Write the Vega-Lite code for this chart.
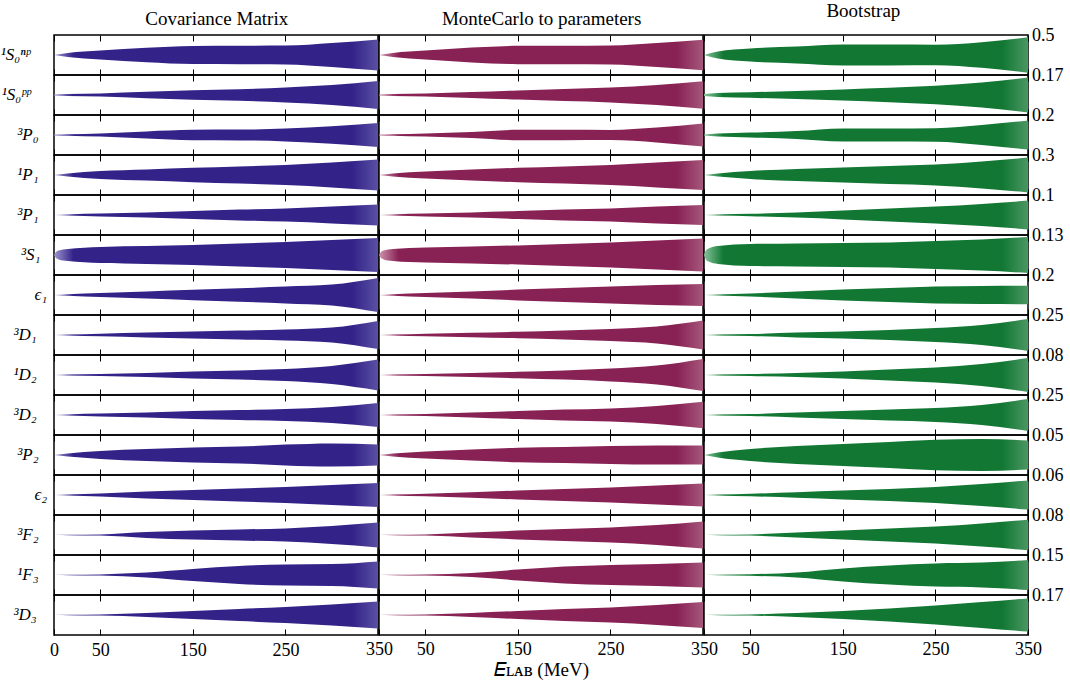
{
"$schema": "https://vega.github.io/schema/vega-lite/v6.json",
"padding": {"left": 0, "top": 2, "right": 0, "bottom": 2},
"background": "white",
"config": {"view": {"stroke": "black", "strokeWidth": 1.5}, "font": "Liberation Serif"},
"datasets": {
"lims": [
{"c":"¹S₀ⁿᵖ","lim":0.5,"nlim":-0.5,"lab":"0.5"},
{"c":"¹S₀ᵖᵖ","lim":0.17,"nlim":-0.17,"lab":"0.17"},
{"c":"³P₀","lim":0.2,"nlim":-0.2,"lab":"0.2"},
{"c":"¹P₁","lim":0.3,"nlim":-0.3,"lab":"0.3"},
{"c":"³P₁","lim":0.1,"nlim":-0.1,"lab":"0.1"},
{"c":"³S₁","lim":0.13,"nlim":-0.13,"lab":"0.13"},
{"c":"ϵ₁","lim":0.2,"nlim":-0.2,"lab":"0.2"},
{"c":"³D₁","lim":0.25,"nlim":-0.25,"lab":"0.25"},
{"c":"¹D₂","lim":0.08,"nlim":-0.08,"lab":"0.08"},
{"c":"³D₂","lim":0.25,"nlim":-0.25,"lab":"0.25"},
{"c":"³P₂","lim":0.05,"nlim":-0.05,"lab":"0.05"},
{"c":"ϵ₂","lim":0.06,"nlim":-0.06,"lab":"0.06"},
{"c":"³F₂","lim":0.08,"nlim":-0.08,"lab":"0.08"},
{"c":"¹F₃","lim":0.15,"nlim":-0.15,"lab":"0.15"},
{"c":"³D₃","lim":0.17,"nlim":-0.17,"lab":"0.17"}
],
"bands": [
{"c":"¹S₀ⁿᵖ","m":"C","E":0,"lo":0,"hi":0},{"c":"¹S₀ⁿᵖ","m":"C","E":15,"lo":-0.05,"hi":0.05},{"c":"¹S₀ⁿᵖ","m":"C","E":50,"lo":-0.11,"hi":0.11},{"c":"¹S₀ⁿᵖ","m":"C","E":100,"lo":-0.18,"hi":0.18},{"c":"¹S₀ⁿᵖ","m":"C","E":150,"lo":-0.225,"hi":0.225},{"c":"¹S₀ⁿᵖ","m":"C","E":200,"lo":-0.23,"hi":0.23},{"c":"¹S₀ⁿᵖ","m":"C","E":250,"lo":-0.235,"hi":0.235},{"c":"¹S₀ⁿᵖ","m":"C","E":300,"lo":-0.3,"hi":0.3},{"c":"¹S₀ⁿᵖ","m":"C","E":350,"lo":-0.39,"hi":0.39},
{"c":"¹S₀ⁿᵖ","m":"M","E":0,"lo":0,"hi":0},{"c":"¹S₀ⁿᵖ","m":"M","E":15,"lo":-0.05,"hi":0.05},{"c":"¹S₀ⁿᵖ","m":"M","E":50,"lo":-0.11,"hi":0.11},{"c":"¹S₀ⁿᵖ","m":"M","E":100,"lo":-0.185,"hi":0.185},{"c":"¹S₀ⁿᵖ","m":"M","E":150,"lo":-0.23,"hi":0.23},{"c":"¹S₀ⁿᵖ","m":"M","E":200,"lo":-0.23,"hi":0.23},{"c":"¹S₀ⁿᵖ","m":"M","E":250,"lo":-0.235,"hi":0.235},{"c":"¹S₀ⁿᵖ","m":"M","E":300,"lo":-0.3,"hi":0.3},{"c":"¹S₀ⁿᵖ","m":"M","E":350,"lo":-0.38,"hi":0.38},
{"c":"¹S₀ⁿᵖ","m":"B","E":0,"lo":0,"hi":0},{"c":"¹S₀ⁿᵖ","m":"B","E":15,"lo":-0.09,"hi":0.09},{"c":"¹S₀ⁿᵖ","m":"B","E":50,"lo":-0.165,"hi":0.165},{"c":"¹S₀ⁿᵖ","m":"B","E":100,"lo":-0.21,"hi":0.21},{"c":"¹S₀ⁿᵖ","m":"B","E":150,"lo":-0.26,"hi":0.26},{"c":"¹S₀ⁿᵖ","m":"B","E":200,"lo":-0.26,"hi":0.26},{"c":"¹S₀ⁿᵖ","m":"B","E":250,"lo":-0.255,"hi":0.255},{"c":"¹S₀ⁿᵖ","m":"B","E":300,"lo":-0.32,"hi":0.32},{"c":"¹S₀ⁿᵖ","m":"B","E":350,"lo":-0.445,"hi":0.445},
{"c":"¹S₀ᵖᵖ","m":"C","E":0,"lo":-0.005,"hi":0.005},{"c":"¹S₀ᵖᵖ","m":"C","E":15,"lo":-0.0085,"hi":0.0085},{"c":"¹S₀ᵖᵖ","m":"C","E":50,"lo":-0.0136,"hi":0.0136},{"c":"¹S₀ᵖᵖ","m":"C","E":100,"lo":-0.0272,"hi":0.0272},{"c":"¹S₀ᵖᵖ","m":"C","E":150,"lo":-0.0408,"hi":0.0408},{"c":"¹S₀ᵖᵖ","m":"C","E":200,"lo":-0.0493,"hi":0.0493},{"c":"¹S₀ᵖᵖ","m":"C","E":250,"lo":-0.0646,"hi":0.0646},{"c":"¹S₀ᵖᵖ","m":"C","E":300,"lo":-0.085,"hi":0.085},{"c":"¹S₀ᵖᵖ","m":"C","E":350,"lo":-0.119,"hi":0.119},
{"c":"¹S₀ᵖᵖ","m":"M","E":0,"lo":-0.005,"hi":0.005},{"c":"¹S₀ᵖᵖ","m":"M","E":15,"lo":-0.0085,"hi":0.0085},{"c":"¹S₀ᵖᵖ","m":"M","E":50,"lo":-0.0136,"hi":0.0136},{"c":"¹S₀ᵖᵖ","m":"M","E":100,"lo":-0.0255,"hi":0.0255},{"c":"¹S₀ᵖᵖ","m":"M","E":150,"lo":-0.0391,"hi":0.0391},{"c":"¹S₀ᵖᵖ","m":"M","E":200,"lo":-0.051,"hi":0.051},{"c":"¹S₀ᵖᵖ","m":"M","E":250,"lo":-0.0629,"hi":0.0629},{"c":"¹S₀ᵖᵖ","m":"M","E":300,"lo":-0.085,"hi":0.085},{"c":"¹S₀ᵖᵖ","m":"M","E":350,"lo":-0.1173,"hi":0.1173},
{"c":"¹S₀ᵖᵖ","m":"B","E":0,"lo":-0.0085,"hi":0.0085},{"c":"¹S₀ᵖᵖ","m":"B","E":15,"lo":-0.017,"hi":0.017},{"c":"¹S₀ᵖᵖ","m":"B","E":50,"lo":-0.0238,"hi":0.0238},{"c":"¹S₀ᵖᵖ","m":"B","E":100,"lo":-0.034,"hi":0.034},{"c":"¹S₀ᵖᵖ","m":"B","E":150,"lo":-0.0476,"hi":0.0476},{"c":"¹S₀ᵖᵖ","m":"B","E":200,"lo":-0.0612,"hi":0.0612},{"c":"¹S₀ᵖᵖ","m":"B","E":250,"lo":-0.0782,"hi":0.0782},{"c":"¹S₀ᵖᵖ","m":"B","E":300,"lo":-0.1054,"hi":0.1054},{"c":"¹S₀ᵖᵖ","m":"B","E":350,"lo":-0.1479,"hi":0.1479},
{"c":"³P₀","m":"C","E":0,"lo":-0.004,"hi":0.004},{"c":"³P₀","m":"C","E":15,"lo":-0.008,"hi":0.008},{"c":"³P₀","m":"C","E":50,"lo":-0.016,"hi":0.016},{"c":"³P₀","m":"C","E":100,"lo":-0.036,"hi":0.036},{"c":"³P₀","m":"C","E":150,"lo":-0.052,"hi":0.052},{"c":"³P₀","m":"C","E":200,"lo":-0.054,"hi":0.054},{"c":"³P₀","m":"C","E":250,"lo":-0.064,"hi":0.064},{"c":"³P₀","m":"C","E":300,"lo":-0.088,"hi":0.088},{"c":"³P₀","m":"C","E":350,"lo":-0.12,"hi":0.12},
{"c":"³P₀","m":"M","E":0,"lo":-0.004,"hi":0.004},{"c":"³P₀","m":"M","E":15,"lo":-0.008,"hi":0.008},{"c":"³P₀","m":"M","E":50,"lo":-0.016,"hi":0.016},{"c":"³P₀","m":"M","E":100,"lo":-0.03,"hi":0.03},{"c":"³P₀","m":"M","E":150,"lo":-0.052,"hi":0.052},{"c":"³P₀","m":"M","E":200,"lo":-0.052,"hi":0.052},{"c":"³P₀","m":"M","E":250,"lo":-0.05,"hi":0.05},{"c":"³P₀","m":"M","E":300,"lo":-0.074,"hi":0.074},{"c":"³P₀","m":"M","E":350,"lo":-0.116,"hi":0.116},
{"c":"³P₀","m":"B","E":0,"lo":-0.004,"hi":0.004},{"c":"³P₀","m":"B","E":15,"lo":-0.014,"hi":0.014},{"c":"³P₀","m":"B","E":50,"lo":-0.024,"hi":0.024},{"c":"³P₀","m":"B","E":100,"lo":-0.04,"hi":0.04},{"c":"³P₀","m":"B","E":150,"lo":-0.066,"hi":0.066},{"c":"³P₀","m":"B","E":200,"lo":-0.066,"hi":0.066},{"c":"³P₀","m":"B","E":250,"lo":-0.068,"hi":0.068},{"c":"³P₀","m":"B","E":300,"lo":-0.1,"hi":0.1},{"c":"³P₀","m":"B","E":350,"lo":-0.146,"hi":0.146},
{"c":"¹P₁","m":"C","E":0,"lo":0,"hi":0},{"c":"¹P₁","m":"C","E":15,"lo":-0.024,"hi":0.024},{"c":"¹P₁","m":"C","E":50,"lo":-0.06,"hi":0.06},{"c":"¹P₁","m":"C","E":100,"lo":-0.084,"hi":0.084},{"c":"¹P₁","m":"C","E":150,"lo":-0.108,"hi":0.108},{"c":"¹P₁","m":"C","E":200,"lo":-0.129,"hi":0.129},{"c":"¹P₁","m":"C","E":250,"lo":-0.15,"hi":0.15},{"c":"¹P₁","m":"C","E":300,"lo":-0.186,"hi":0.186},{"c":"¹P₁","m":"C","E":350,"lo":-0.231,"hi":0.231},
{"c":"¹P₁","m":"M","E":0,"lo":0,"hi":0},{"c":"¹P₁","m":"M","E":15,"lo":-0.021,"hi":0.021},{"c":"¹P₁","m":"M","E":50,"lo":-0.051,"hi":0.051},{"c":"¹P₁","m":"M","E":100,"lo":-0.081,"hi":0.081},{"c":"¹P₁","m":"M","E":150,"lo":-0.108,"hi":0.108},{"c":"¹P₁","m":"M","E":200,"lo":-0.129,"hi":0.129},{"c":"¹P₁","m":"M","E":250,"lo":-0.15,"hi":0.15},{"c":"¹P₁","m":"M","E":300,"lo":-0.186,"hi":0.186},{"c":"¹P₁","m":"M","E":350,"lo":-0.225,"hi":0.225},
{"c":"¹P₁","m":"B","E":0,"lo":0,"hi":0},{"c":"¹P₁","m":"B","E":15,"lo":-0.024,"hi":0.024},{"c":"¹P₁","m":"B","E":50,"lo":-0.06,"hi":0.06},{"c":"¹P₁","m":"B","E":100,"lo":-0.09,"hi":0.09},{"c":"¹P₁","m":"B","E":150,"lo":-0.111,"hi":0.111},{"c":"¹P₁","m":"B","E":200,"lo":-0.135,"hi":0.135},{"c":"¹P₁","m":"B","E":250,"lo":-0.156,"hi":0.156},{"c":"¹P₁","m":"B","E":300,"lo":-0.201,"hi":0.201},{"c":"¹P₁","m":"B","E":350,"lo":-0.261,"hi":0.261},
{"c":"³P₁","m":"C","E":0,"lo":0,"hi":0},{"c":"³P₁","m":"C","E":15,"lo":-0.003,"hi":0.003},{"c":"³P₁","m":"C","E":50,"lo":-0.007,"hi":0.007},{"c":"³P₁","m":"C","E":100,"lo":-0.013,"hi":0.013},{"c":"³P₁","m":"C","E":150,"lo":-0.02,"hi":0.02},{"c":"³P₁","m":"C","E":200,"lo":-0.027,"hi":0.027},{"c":"³P₁","m":"C","E":250,"lo":-0.033,"hi":0.033},{"c":"³P₁","m":"C","E":300,"lo":-0.042,"hi":0.042},{"c":"³P₁","m":"C","E":350,"lo":-0.052,"hi":0.052},
{"c":"³P₁","m":"M","E":0,"lo":0,"hi":0},{"c":"³P₁","m":"M","E":15,"lo":-0.003,"hi":0.003},{"c":"³P₁","m":"M","E":50,"lo":-0.007,"hi":0.007},{"c":"³P₁","m":"M","E":100,"lo":-0.013,"hi":0.013},{"c":"³P₁","m":"M","E":150,"lo":-0.02,"hi":0.02},{"c":"³P₁","m":"M","E":200,"lo":-0.027,"hi":0.027},{"c":"³P₁","m":"M","E":250,"lo":-0.033,"hi":0.033},{"c":"³P₁","m":"M","E":300,"lo":-0.042,"hi":0.042},{"c":"³P₁","m":"M","E":350,"lo":-0.05,"hi":0.05},
{"c":"³P₁","m":"B","E":0,"lo":0,"hi":0},{"c":"³P₁","m":"B","E":15,"lo":-0.003,"hi":0.003},{"c":"³P₁","m":"B","E":50,"lo":-0.006,"hi":0.006},{"c":"³P₁","m":"B","E":100,"lo":-0.013,"hi":0.013},{"c":"³P₁","m":"B","E":150,"lo":-0.022,"hi":0.022},{"c":"³P₁","m":"B","E":200,"lo":-0.032,"hi":0.032},{"c":"³P₁","m":"B","E":250,"lo":-0.042,"hi":0.042},{"c":"³P₁","m":"B","E":300,"lo":-0.055,"hi":0.055},{"c":"³P₁","m":"B","E":350,"lo":-0.072,"hi":0.072},
{"c":"³S₁","m":"C","E":0,"lo":0,"hi":0},{"c":"³S₁","m":"C","E":2,"lo":-0.0182,"hi":0.0182},{"c":"³S₁","m":"C","E":5,"lo":-0.0286,"hi":0.0286},{"c":"³S₁","m":"C","E":15,"lo":-0.039,"hi":0.039},{"c":"³S₁","m":"C","E":50,"lo":-0.052,"hi":0.052},{"c":"³S₁","m":"C","E":100,"lo":-0.0585,"hi":0.0585},{"c":"³S₁","m":"C","E":150,"lo":-0.065,"hi":0.065},{"c":"³S₁","m":"C","E":200,"lo":-0.0741,"hi":0.0741},{"c":"³S₁","m":"C","E":250,"lo":-0.0845,"hi":0.0845},{"c":"³S₁","m":"C","E":300,"lo":-0.0975,"hi":0.0975},{"c":"³S₁","m":"C","E":350,"lo":-0.1105,"hi":0.1105},
{"c":"³S₁","m":"M","E":0,"lo":0,"hi":0},{"c":"³S₁","m":"M","E":2,"lo":-0.0182,"hi":0.0182},{"c":"³S₁","m":"M","E":5,"lo":-0.0286,"hi":0.0286},{"c":"³S₁","m":"M","E":15,"lo":-0.039,"hi":0.039},{"c":"³S₁","m":"M","E":50,"lo":-0.0494,"hi":0.0494},{"c":"³S₁","m":"M","E":100,"lo":-0.0559,"hi":0.0559},{"c":"³S₁","m":"M","E":150,"lo":-0.0624,"hi":0.0624},{"c":"³S₁","m":"M","E":200,"lo":-0.0715,"hi":0.0715},{"c":"³S₁","m":"M","E":250,"lo":-0.0806,"hi":0.0806},{"c":"³S₁","m":"M","E":300,"lo":-0.0936,"hi":0.0936},{"c":"³S₁","m":"M","E":350,"lo":-0.1066,"hi":0.1066},
{"c":"³S₁","m":"B","E":0,"lo":0,"hi":0},{"c":"³S₁","m":"B","E":2,"lo":-0.0286,"hi":0.0286},{"c":"³S₁","m":"B","E":5,"lo":-0.0429,"hi":0.0429},{"c":"³S₁","m":"B","E":15,"lo":-0.0585,"hi":0.0585},{"c":"³S₁","m":"B","E":50,"lo":-0.0715,"hi":0.0715},{"c":"³S₁","m":"B","E":100,"lo":-0.0741,"hi":0.0741},{"c":"³S₁","m":"B","E":150,"lo":-0.078,"hi":0.078},{"c":"³S₁","m":"B","E":200,"lo":-0.0819,"hi":0.0819},{"c":"³S₁","m":"B","E":250,"lo":-0.091,"hi":0.091},{"c":"³S₁","m":"B","E":300,"lo":-0.1014,"hi":0.1014},{"c":"³S₁","m":"B","E":350,"lo":-0.117,"hi":0.117},
{"c":"ϵ₁","m":"C","E":0,"lo":0,"hi":0},{"c":"ϵ₁","m":"C","E":15,"lo":-0.008,"hi":0.008},{"c":"ϵ₁","m":"C","E":50,"lo":-0.02,"hi":0.02},{"c":"ϵ₁","m":"C","E":100,"lo":-0.036,"hi":0.036},{"c":"ϵ₁","m":"C","E":150,"lo":-0.052,"hi":0.052},{"c":"ϵ₁","m":"C","E":200,"lo":-0.068,"hi":0.068},{"c":"ϵ₁","m":"C","E":250,"lo":-0.084,"hi":0.084},{"c":"ϵ₁","m":"C","E":300,"lo":-0.104,"hi":0.104},{"c":"ϵ₁","m":"C","E":350,"lo":-0.17,"hi":0.17},
{"c":"ϵ₁","m":"M","E":0,"lo":0,"hi":0},{"c":"ϵ₁","m":"M","E":15,"lo":-0.008,"hi":0.008},{"c":"ϵ₁","m":"M","E":50,"lo":-0.02,"hi":0.02},{"c":"ϵ₁","m":"M","E":100,"lo":-0.036,"hi":0.036},{"c":"ϵ₁","m":"M","E":150,"lo":-0.054,"hi":0.054},{"c":"ϵ₁","m":"M","E":200,"lo":-0.07,"hi":0.07},{"c":"ϵ₁","m":"M","E":250,"lo":-0.086,"hi":0.086},{"c":"ϵ₁","m":"M","E":300,"lo":-0.1,"hi":0.1},{"c":"ϵ₁","m":"M","E":350,"lo":-0.11,"hi":0.11},
{"c":"ϵ₁","m":"B","E":0,"lo":0,"hi":0},{"c":"ϵ₁","m":"B","E":15,"lo":-0.006,"hi":0.006},{"c":"ϵ₁","m":"B","E":50,"lo":-0.016,"hi":0.016},{"c":"ϵ₁","m":"B","E":100,"lo":-0.034,"hi":0.034},{"c":"ϵ₁","m":"B","E":150,"lo":-0.054,"hi":0.054},{"c":"ϵ₁","m":"B","E":200,"lo":-0.07,"hi":0.07},{"c":"ϵ₁","m":"B","E":250,"lo":-0.084,"hi":0.084},{"c":"ϵ₁","m":"B","E":300,"lo":-0.09,"hi":0.09},{"c":"ϵ₁","m":"B","E":350,"lo":-0.092,"hi":0.092},
{"c":"³D₁","m":"C","E":0,"lo":0,"hi":0},{"c":"³D₁","m":"C","E":15,"lo":-0.005,"hi":0.005},{"c":"³D₁","m":"C","E":50,"lo":-0.015,"hi":0.015},{"c":"³D₁","m":"C","E":100,"lo":-0.03,"hi":0.03},{"c":"³D₁","m":"C","E":150,"lo":-0.0425,"hi":0.0425},{"c":"³D₁","m":"C","E":200,"lo":-0.055,"hi":0.055},{"c":"³D₁","m":"C","E":250,"lo":-0.0675,"hi":0.0675},{"c":"³D₁","m":"C","E":300,"lo":-0.0925,"hi":0.0925},{"c":"³D₁","m":"C","E":350,"lo":-0.175,"hi":0.175},
{"c":"³D₁","m":"M","E":0,"lo":0,"hi":0},{"c":"³D₁","m":"M","E":15,"lo":-0.005,"hi":0.005},{"c":"³D₁","m":"M","E":50,"lo":-0.015,"hi":0.015},{"c":"³D₁","m":"M","E":100,"lo":-0.0275,"hi":0.0275},{"c":"³D₁","m":"M","E":150,"lo":-0.04,"hi":0.04},{"c":"³D₁","m":"M","E":200,"lo":-0.055,"hi":0.055},{"c":"³D₁","m":"M","E":250,"lo":-0.075,"hi":0.075},{"c":"³D₁","m":"M","E":300,"lo":-0.105,"hi":0.105},{"c":"³D₁","m":"M","E":350,"lo":-0.18,"hi":0.18},
{"c":"³D₁","m":"B","E":0,"lo":0,"hi":0},{"c":"³D₁","m":"B","E":15,"lo":-0.005,"hi":0.005},{"c":"³D₁","m":"B","E":50,"lo":-0.0125,"hi":0.0125},{"c":"³D₁","m":"B","E":100,"lo":-0.03,"hi":0.03},{"c":"³D₁","m":"B","E":150,"lo":-0.045,"hi":0.045},{"c":"³D₁","m":"B","E":200,"lo":-0.0625,"hi":0.0625},{"c":"³D₁","m":"B","E":250,"lo":-0.0875,"hi":0.0875},{"c":"³D₁","m":"B","E":300,"lo":-0.125,"hi":0.125},{"c":"³D₁","m":"B","E":350,"lo":-0.2,"hi":0.2},
{"c":"¹D₂","m":"C","E":0,"lo":0,"hi":0},{"c":"¹D₂","m":"C","E":15,"lo":-0.0016,"hi":0.0016},{"c":"¹D₂","m":"C","E":50,"lo":-0.004,"hi":0.004},{"c":"¹D₂","m":"C","E":100,"lo":-0.008,"hi":0.008},{"c":"¹D₂","m":"C","E":150,"lo":-0.0136,"hi":0.0136},{"c":"¹D₂","m":"C","E":200,"lo":-0.0184,"hi":0.0184},{"c":"¹D₂","m":"C","E":250,"lo":-0.024,"hi":0.024},{"c":"¹D₂","m":"C","E":300,"lo":-0.036,"hi":0.036},{"c":"¹D₂","m":"C","E":350,"lo":-0.0616,"hi":0.0616},
{"c":"¹D₂","m":"M","E":0,"lo":0,"hi":0},{"c":"¹D₂","m":"M","E":15,"lo":-0.0016,"hi":0.0016},{"c":"¹D₂","m":"M","E":50,"lo":-0.004,"hi":0.004},{"c":"¹D₂","m":"M","E":100,"lo":-0.008,"hi":0.008},{"c":"¹D₂","m":"M","E":150,"lo":-0.0128,"hi":0.0128},{"c":"¹D₂","m":"M","E":200,"lo":-0.0184,"hi":0.0184},{"c":"¹D₂","m":"M","E":250,"lo":-0.0256,"hi":0.0256},{"c":"¹D₂","m":"M","E":300,"lo":-0.0376,"hi":0.0376},{"c":"¹D₂","m":"M","E":350,"lo":-0.064,"hi":0.064},
{"c":"¹D₂","m":"B","E":0,"lo":0,"hi":0},{"c":"¹D₂","m":"B","E":15,"lo":-0.0016,"hi":0.0016},{"c":"¹D₂","m":"B","E":50,"lo":-0.004,"hi":0.004},{"c":"¹D₂","m":"B","E":100,"lo":-0.008,"hi":0.008},{"c":"¹D₂","m":"B","E":150,"lo":-0.0144,"hi":0.0144},{"c":"¹D₂","m":"B","E":200,"lo":-0.0216,"hi":0.0216},{"c":"¹D₂","m":"B","E":250,"lo":-0.0296,"hi":0.0296},{"c":"¹D₂","m":"B","E":300,"lo":-0.044,"hi":0.044},{"c":"¹D₂","m":"B","E":350,"lo":-0.068,"hi":0.068},
{"c":"³D₂","m":"C","E":0,"lo":0,"hi":0},{"c":"³D₂","m":"C","E":15,"lo":-0.0075,"hi":0.0075},{"c":"³D₂","m":"C","E":50,"lo":-0.0175,"hi":0.0175},{"c":"³D₂","m":"C","E":100,"lo":-0.0325,"hi":0.0325},{"c":"³D₂","m":"C","E":150,"lo":-0.05,"hi":0.05},{"c":"³D₂","m":"C","E":200,"lo":-0.0625,"hi":0.0625},{"c":"³D₂","m":"C","E":250,"lo":-0.075,"hi":0.075},{"c":"³D₂","m":"C","E":300,"lo":-0.1,"hi":0.1},{"c":"³D₂","m":"C","E":350,"lo":-0.15,"hi":0.15},
{"c":"³D₂","m":"M","E":0,"lo":0,"hi":0},{"c":"³D₂","m":"M","E":15,"lo":-0.005,"hi":0.005},{"c":"³D₂","m":"M","E":50,"lo":-0.0125,"hi":0.0125},{"c":"³D₂","m":"M","E":100,"lo":-0.03,"hi":0.03},{"c":"³D₂","m":"M","E":150,"lo":-0.05,"hi":0.05},{"c":"³D₂","m":"M","E":200,"lo":-0.0675,"hi":0.0675},{"c":"³D₂","m":"M","E":250,"lo":-0.0825,"hi":0.0825},{"c":"³D₂","m":"M","E":300,"lo":-0.1125,"hi":0.1125},{"c":"³D₂","m":"M","E":350,"lo":-0.165,"hi":0.165},
{"c":"³D₂","m":"B","E":0,"lo":0,"hi":0},{"c":"³D₂","m":"B","E":15,"lo":-0.005,"hi":0.005},{"c":"³D₂","m":"B","E":50,"lo":-0.0125,"hi":0.0125},{"c":"³D₂","m":"B","E":100,"lo":-0.03,"hi":0.03},{"c":"³D₂","m":"B","E":150,"lo":-0.05,"hi":0.05},{"c":"³D₂","m":"B","E":200,"lo":-0.07,"hi":0.07},{"c":"³D₂","m":"B","E":250,"lo":-0.0875,"hi":0.0875},{"c":"³D₂","m":"B","E":300,"lo":-0.125,"hi":0.125},{"c":"³D₂","m":"B","E":350,"lo":-0.2,"hi":0.2},
{"c":"³P₂","m":"C","E":0,"lo":0,"hi":0},{"c":"³P₂","m":"C","E":15,"lo":-0.004,"hi":0.004},{"c":"³P₂","m":"C","E":50,"lo":-0.01,"hi":0.01},{"c":"³P₂","m":"C","E":100,"lo":-0.015,"hi":0.015},{"c":"³P₂","m":"C","E":150,"lo":-0.0185,"hi":0.0185},{"c":"³P₂","m":"C","E":200,"lo":-0.021,"hi":0.021},{"c":"³P₂","m":"C","E":250,"lo":-0.026,"hi":0.026},{"c":"³P₂","m":"C","E":300,"lo":-0.029,"hi":0.029},{"c":"³P₂","m":"C","E":350,"lo":-0.0265,"hi":0.0265},
{"c":"³P₂","m":"M","E":0,"lo":0,"hi":0},{"c":"³P₂","m":"M","E":15,"lo":-0.0035,"hi":0.0035},{"c":"³P₂","m":"M","E":50,"lo":-0.009,"hi":0.009},{"c":"³P₂","m":"M","E":100,"lo":-0.014,"hi":0.014},{"c":"³P₂","m":"M","E":150,"lo":-0.018,"hi":0.018},{"c":"³P₂","m":"M","E":200,"lo":-0.02,"hi":0.02},{"c":"³P₂","m":"M","E":250,"lo":-0.0225,"hi":0.0225},{"c":"³P₂","m":"M","E":300,"lo":-0.024,"hi":0.024},{"c":"³P₂","m":"M","E":350,"lo":-0.024,"hi":0.024},
{"c":"³P₂","m":"B","E":0,"lo":0,"hi":0},{"c":"³P₂","m":"B","E":15,"lo":-0.006,"hi":0.006},{"c":"³P₂","m":"B","E":50,"lo":-0.015,"hi":0.015},{"c":"³P₂","m":"B","E":100,"lo":-0.0225,"hi":0.0225},{"c":"³P₂","m":"B","E":150,"lo":-0.0275,"hi":0.0275},{"c":"³P₂","m":"B","E":200,"lo":-0.0325,"hi":0.0325},{"c":"³P₂","m":"B","E":250,"lo":-0.038,"hi":0.038},{"c":"³P₂","m":"B","E":300,"lo":-0.04,"hi":0.04},{"c":"³P₂","m":"B","E":350,"lo":-0.036,"hi":0.036},
{"c":"ϵ₂","m":"C","E":0,"lo":0,"hi":0},{"c":"ϵ₂","m":"C","E":15,"lo":-0.0018,"hi":0.0018},{"c":"ϵ₂","m":"C","E":50,"lo":-0.0048,"hi":0.0048},{"c":"ϵ₂","m":"C","E":100,"lo":-0.0102,"hi":0.0102},{"c":"ϵ₂","m":"C","E":150,"lo":-0.015,"hi":0.015},{"c":"ϵ₂","m":"C","E":200,"lo":-0.0192,"hi":0.0192},{"c":"ϵ₂","m":"C","E":250,"lo":-0.024,"hi":0.024},{"c":"ϵ₂","m":"C","E":300,"lo":-0.03,"hi":0.03},{"c":"ϵ₂","m":"C","E":350,"lo":-0.036,"hi":0.036},
{"c":"ϵ₂","m":"M","E":0,"lo":0,"hi":0},{"c":"ϵ₂","m":"M","E":15,"lo":-0.0012,"hi":0.0012},{"c":"ϵ₂","m":"M","E":50,"lo":-0.0036,"hi":0.0036},{"c":"ϵ₂","m":"M","E":100,"lo":-0.0084,"hi":0.0084},{"c":"ϵ₂","m":"M","E":150,"lo":-0.0132,"hi":0.0132},{"c":"ϵ₂","m":"M","E":200,"lo":-0.018,"hi":0.018},{"c":"ϵ₂","m":"M","E":250,"lo":-0.0228,"hi":0.0228},{"c":"ϵ₂","m":"M","E":300,"lo":-0.0288,"hi":0.0288},{"c":"ϵ₂","m":"M","E":350,"lo":-0.0348,"hi":0.0348},
{"c":"ϵ₂","m":"B","E":0,"lo":0,"hi":0},{"c":"ϵ₂","m":"B","E":15,"lo":-0.0012,"hi":0.0012},{"c":"ϵ₂","m":"B","E":50,"lo":-0.0036,"hi":0.0036},{"c":"ϵ₂","m":"B","E":100,"lo":-0.0084,"hi":0.0084},{"c":"ϵ₂","m":"B","E":150,"lo":-0.0132,"hi":0.0132},{"c":"ϵ₂","m":"B","E":200,"lo":-0.018,"hi":0.018},{"c":"ϵ₂","m":"B","E":250,"lo":-0.024,"hi":0.024},{"c":"ϵ₂","m":"B","E":300,"lo":-0.033,"hi":0.033},{"c":"ϵ₂","m":"B","E":350,"lo":-0.0438,"hi":0.0438},
{"c":"³F₂","m":"C","E":0,"lo":0,"hi":0},{"c":"³F₂","m":"C","E":15,"lo":-0.0008,"hi":0.0008},{"c":"³F₂","m":"C","E":50,"lo":-0.0024,"hi":0.0024},{"c":"³F₂","m":"C","E":100,"lo":-0.012,"hi":0.012},{"c":"³F₂","m":"C","E":150,"lo":-0.0184,"hi":0.0184},{"c":"³F₂","m":"C","E":200,"lo":-0.0224,"hi":0.0224},{"c":"³F₂","m":"C","E":250,"lo":-0.0264,"hi":0.0264},{"c":"³F₂","m":"C","E":300,"lo":-0.036,"hi":0.036},{"c":"³F₂","m":"C","E":350,"lo":-0.0496,"hi":0.0496},
{"c":"³F₂","m":"M","E":0,"lo":0,"hi":0},{"c":"³F₂","m":"M","E":15,"lo":-0.0008,"hi":0.0008},{"c":"³F₂","m":"M","E":50,"lo":-0.0024,"hi":0.0024},{"c":"³F₂","m":"M","E":100,"lo":-0.0096,"hi":0.0096},{"c":"³F₂","m":"M","E":150,"lo":-0.0176,"hi":0.0176},{"c":"³F₂","m":"M","E":200,"lo":-0.024,"hi":0.024},{"c":"³F₂","m":"M","E":250,"lo":-0.0304,"hi":0.0304},{"c":"³F₂","m":"M","E":300,"lo":-0.04,"hi":0.04},{"c":"³F₂","m":"M","E":350,"lo":-0.0544,"hi":0.0544},
{"c":"³F₂","m":"B","E":0,"lo":0,"hi":0},{"c":"³F₂","m":"B","E":15,"lo":-0.0008,"hi":0.0008},{"c":"³F₂","m":"B","E":50,"lo":-0.0024,"hi":0.0024},{"c":"³F₂","m":"B","E":100,"lo":-0.0096,"hi":0.0096},{"c":"³F₂","m":"B","E":150,"lo":-0.0176,"hi":0.0176},{"c":"³F₂","m":"B","E":200,"lo":-0.0256,"hi":0.0256},{"c":"³F₂","m":"B","E":250,"lo":-0.0336,"hi":0.0336},{"c":"³F₂","m":"B","E":300,"lo":-0.0464,"hi":0.0464},{"c":"³F₂","m":"B","E":350,"lo":-0.0608,"hi":0.0608},
{"c":"¹F₃","m":"C","E":0,"lo":0,"hi":0},{"c":"¹F₃","m":"C","E":15,"lo":-0.0015,"hi":0.0015},{"c":"¹F₃","m":"C","E":50,"lo":-0.0045,"hi":0.0045},{"c":"¹F₃","m":"C","E":100,"lo":-0.018,"hi":0.018},{"c":"¹F₃","m":"C","E":150,"lo":-0.045,"hi":0.045},{"c":"¹F₃","m":"C","E":200,"lo":-0.0675,"hi":0.0675},{"c":"¹F₃","m":"C","E":250,"lo":-0.0795,"hi":0.0795},{"c":"¹F₃","m":"C","E":300,"lo":-0.0825,"hi":0.0825},{"c":"¹F₃","m":"C","E":350,"lo":-0.102,"hi":0.102},
{"c":"¹F₃","m":"M","E":0,"lo":0,"hi":0},{"c":"¹F₃","m":"M","E":15,"lo":-0.0015,"hi":0.0015},{"c":"¹F₃","m":"M","E":50,"lo":-0.0045,"hi":0.0045},{"c":"¹F₃","m":"M","E":100,"lo":-0.015,"hi":0.015},{"c":"¹F₃","m":"M","E":150,"lo":-0.0405,"hi":0.0405},{"c":"¹F₃","m":"M","E":200,"lo":-0.063,"hi":0.063},{"c":"¹F₃","m":"M","E":250,"lo":-0.075,"hi":0.075},{"c":"¹F₃","m":"M","E":300,"lo":-0.0825,"hi":0.0825},{"c":"¹F₃","m":"M","E":350,"lo":-0.093,"hi":0.093},
{"c":"¹F₃","m":"B","E":0,"lo":0,"hi":0},{"c":"¹F₃","m":"B","E":15,"lo":-0.0015,"hi":0.0015},{"c":"¹F₃","m":"B","E":50,"lo":-0.006,"hi":0.006},{"c":"¹F₃","m":"B","E":100,"lo":-0.0195,"hi":0.0195},{"c":"¹F₃","m":"B","E":150,"lo":-0.0495,"hi":0.0495},{"c":"¹F₃","m":"B","E":200,"lo":-0.072,"hi":0.072},{"c":"¹F₃","m":"B","E":250,"lo":-0.087,"hi":0.087},{"c":"¹F₃","m":"B","E":300,"lo":-0.093,"hi":0.093},{"c":"¹F₃","m":"B","E":350,"lo":-0.1125,"hi":0.1125},
{"c":"³D₃","m":"C","E":0,"lo":0,"hi":0},{"c":"³D₃","m":"C","E":15,"lo":-0.0017,"hi":0.0017},{"c":"³D₃","m":"C","E":50,"lo":-0.0051,"hi":0.0051},{"c":"³D₃","m":"C","E":100,"lo":-0.017,"hi":0.017},{"c":"³D₃","m":"C","E":150,"lo":-0.034,"hi":0.034},{"c":"³D₃","m":"C","E":200,"lo":-0.051,"hi":0.051},{"c":"³D₃","m":"C","E":250,"lo":-0.068,"hi":0.068},{"c":"³D₃","m":"C","E":300,"lo":-0.0884,"hi":0.0884},{"c":"³D₃","m":"C","E":350,"lo":-0.1139,"hi":0.1139},
{"c":"³D₃","m":"M","E":0,"lo":0,"hi":0},{"c":"³D₃","m":"M","E":15,"lo":-0.0017,"hi":0.0017},{"c":"³D₃","m":"M","E":50,"lo":-0.0051,"hi":0.0051},{"c":"³D₃","m":"M","E":100,"lo":-0.017,"hi":0.017},{"c":"³D₃","m":"M","E":150,"lo":-0.034,"hi":0.034},{"c":"³D₃","m":"M","E":200,"lo":-0.051,"hi":0.051},{"c":"³D₃","m":"M","E":250,"lo":-0.0646,"hi":0.0646},{"c":"³D₃","m":"M","E":300,"lo":-0.085,"hi":0.085},{"c":"³D₃","m":"M","E":350,"lo":-0.1105,"hi":0.1105},
{"c":"³D₃","m":"B","E":0,"lo":0,"hi":0},{"c":"³D₃","m":"B","E":15,"lo":-0.0017,"hi":0.0017},{"c":"³D₃","m":"B","E":50,"lo":-0.0051,"hi":0.0051},{"c":"³D₃","m":"B","E":100,"lo":-0.017,"hi":0.017},{"c":"³D₃","m":"B","E":150,"lo":-0.034,"hi":0.034},{"c":"³D₃","m":"B","E":200,"lo":-0.0561,"hi":0.0561},{"c":"³D₃","m":"B","E":250,"lo":-0.0816,"hi":0.0816},{"c":"³D₃","m":"B","E":300,"lo":-0.1105,"hi":0.1105},{"c":"³D₃","m":"B","E":350,"lo":-0.1411,"hi":0.1411}
]
},
"spacing": -14,
"hconcat": [
{
"title": {"text": "Covariance Matrix", "font": "Liberation Serif", "fontSize": 19, "fontWeight": "normal", "color": "black", "anchor": "middle", "offset": 5, "dx": 27},
"data": {"name": "bands"},
"transform": [{"filter": "datum.m == 'C'"}, {"lookup": "c", "from": {"data": {"name": "lims"}, "key": "c", "fields": ["lim", "nlim", "lab"]}}],
"facet": {"row": {"field": "c", "type": "nominal", "sort": ["¹S₀ⁿᵖ","¹S₀ᵖᵖ","³P₀","¹P₁","³P₁","³S₁","ϵ₁","³D₁","¹D₂","³D₂","³P₂","ϵ₂","³F₂","¹F₃","³D₃"], "header": {"title": null, "labelAngle": 0, "labelAlign": "right", "labelBaseline": "middle", "labelFont": "Liberation Serif", "labelFontSize": 17, "labelFontStyle": "italic", "labelColor": "black", "labelPadding": -6}}},
"spacing": 0,
"bounds": "flush",
"resolve": {"scale": {"y": "independent"}},
"spec": {
"width": 324, "height": 40,
"layer": [
{"mark": {"type": "rule", "opacity": 0}, "encoding": {"x": {"datum": 350, "type": "quantitative"}, "y": {"field": "nlim", "type": "quantitative", "scale": {"nice": false, "zero": false}, "axis": null}, "y2": {"field": "lim"}}},
{"mark": {"type": "area", "interpolate": "monotone", "fill": {"gradient": "linear", "x1": 0, "y1": 0, "x2": 1, "y2": 0, "stops": [{"offset": 0, "color": "#9d96cf"}, {"offset": 0.06, "color": "#332288"}, {"offset": 0.92, "color": "#332288"}, {"offset": 1, "color": "#5a50a3"}]}},
 "encoding": {"x": {"field": "E", "type": "quantitative", "scale": {"domain": [0, 350], "nice": false}, "axis": {"values": [0, 50, 150, 250], "labelFlush": false, "title": null, "grid": true, "gridDash": [6, 28, 6], "gridColor": "black", "gridOpacity": 1, "gridWidth": 1, "ticks": false, "domain": false, "labelFont": "Liberation Serif", "labelFontSize": 18, "labelColor": "black", "labelPadding": 6}},
 "y": {"field": "lo", "type": "quantitative"}, "y2": {"field": "hi"}}}
]
}
},
{
"title": {"text": "MonteCarlo to parameters", "font": "Liberation Serif", "fontSize": 19, "fontWeight": "normal", "color": "black", "anchor": "middle", "offset": 5, "dx": 7},
"data": {"name": "bands"},
"transform": [{"filter": "datum.m == 'M'"}, {"lookup": "c", "from": {"data": {"name": "lims"}, "key": "c", "fields": ["lim", "nlim", "lab"]}}],
"facet": {"row": {"field": "c", "type": "nominal", "sort": ["¹S₀ⁿᵖ","¹S₀ᵖᵖ","³P₀","¹P₁","³P₁","³S₁","ϵ₁","³D₁","¹D₂","³D₂","³P₂","ϵ₂","³F₂","¹F₃","³D₃"], "header": {"title": null, "labels": false}}},
"spacing": 0,
"bounds": "flush",
"resolve": {"scale": {"y": "independent"}},
"spec": {
"width": 324, "height": 40,
"layer": [
{"mark": {"type": "rule", "opacity": 0}, "encoding": {"x": {"datum": 350, "type": "quantitative"}, "y": {"field": "nlim", "type": "quantitative", "scale": {"nice": false, "zero": false}, "axis": null}, "y2": {"field": "lim"}}},
{"mark": {"type": "area", "interpolate": "monotone", "fill": {"gradient": "linear", "x1": 0, "y1": 0, "x2": 1, "y2": 0, "stops": [{"offset": 0, "color": "#cf93ae"}, {"offset": 0.06, "color": "#882255"}, {"offset": 0.92, "color": "#882255"}, {"offset": 1, "color": "#a5577b"}]}},
 "encoding": {"x": {"field": "E", "type": "quantitative", "scale": {"domain": [0, 350], "nice": false}, "axis": {"values": [0, 50, 150, 250], "labelFlush": false, "labelExpr": "datum.value == 0 ? '350' : datum.label", "title": "𝐸ʟᴀʙ (MeV)", "titleFont": "Liberation Serif", "titleFontSize": 19, "titleFontWeight": "normal", "titleColor": "black", "titlePadding": 2, "grid": true, "gridDash": [6, 28, 6], "gridColor": "black", "gridOpacity": 1, "gridWidth": 1, "ticks": false, "domain": false, "labelFont": "Liberation Serif", "labelFontSize": 18, "labelColor": "black", "labelPadding": 5}},
 "y": {"field": "lo", "type": "quantitative"}, "y2": {"field": "hi"}}}
]
}
},
{
"title": {"text": "Bootstrap", "font": "Liberation Serif", "fontSize": 19, "fontWeight": "normal", "color": "black", "anchor": "middle", "offset": 5, "dx": -14},
"data": {"name": "bands"},
"transform": [{"filter": "datum.m == 'B'"}, {"lookup": "c", "from": {"data": {"name": "lims"}, "key": "c", "fields": ["lim", "nlim", "lab"]}}],
"facet": {"row": {"field": "c", "type": "nominal", "sort": ["¹S₀ⁿᵖ","¹S₀ᵖᵖ","³P₀","¹P₁","³P₁","³S₁","ϵ₁","³D₁","¹D₂","³D₂","³P₂","ϵ₂","³F₂","¹F₃","³D₃"], "header": {"title": null, "labels": false}}},
"spacing": 0,
"bounds": "flush",
"resolve": {"scale": {"y": "independent"}},
"spec": {
"width": 324, "height": 40,
"layer": [
{"mark": {"type": "rule", "opacity": 0}, "encoding": {"x": {"datum": 350, "type": "quantitative"}, "y": {"field": "nlim", "type": "quantitative", "scale": {"nice": false, "zero": false}, "axis": null}, "y2": {"field": "lim"}}},
{"mark": {"type": "area", "interpolate": "monotone", "fill": {"gradient": "linear", "x1": 0, "y1": 0, "x2": 1, "y2": 0, "stops": [{"offset": 0, "color": "#86c39a"}, {"offset": 0.06, "color": "#117733"}, {"offset": 0.92, "color": "#117733"}, {"offset": 1, "color": "#4a9762"}]}},
 "encoding": {"x": {"field": "E", "type": "quantitative", "scale": {"domain": [0, 350], "nice": false}, "axis": {"values": [0, 50, 150, 250, 350], "labelFlush": false, "labelExpr": "datum.value == 0 ? '350' : datum.label", "title": null, "grid": true, "gridDash": [6, 28, 6], "gridColor": "black", "gridOpacity": 1, "gridWidth": 1, "ticks": false, "domain": false, "labelFont": "Liberation Serif", "labelFontSize": 18, "labelColor": "black", "labelPadding": 5}},
 "y": {"field": "lo", "type": "quantitative"}, "y2": {"field": "hi"}}},
{"transform": [{"filter": "datum.E == 350"}], "mark": {"type": "text", "align": "left", "baseline": "middle", "dx": 4, "dy": 1, "font": "Liberation Serif", "fontSize": 18, "color": "black"}, "encoding": {"x": {"datum": 350, "type": "quantitative"}, "y": {"field": "lim", "type": "quantitative"}, "text": {"field": "lab", "type": "nominal"}}}
]
}
}
]
}
